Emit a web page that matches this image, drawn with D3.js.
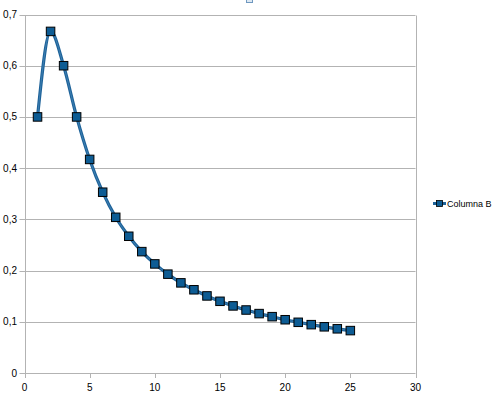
<!DOCTYPE html>
<html><head><meta charset="utf-8">
<script src="https://cdn.jsdelivr.net/npm/d3@7"></script>
<style>body{margin:0;background:#fff}svg{display:block}</style>
</head><body>
<svg id="c" width="498" height="403"></svg>
<script>
const xValues = [1,2,3,4,5,6,7,8,9,10,11,12,13,14,15,16,17,18,19,20,21,22,23,24,25];
const seriesB = [0.5,0.667,0.6,0.5,0.417,0.353,0.304,0.267,0.237,0.213,0.193,0.176,0.1625,0.1505,0.140,0.131,0.123,0.116,0.110,0.104,0.099,0.0944,0.0902,0.0863,0.0828];
const xTicks = [0,5,10,15,20,25,30];
const yTicks = [0,0.1,0.2,0.3,0.4,0.5,0.6,0.7];
const seriesName = "Columna B";

const svg = d3.select("#c");
const x = d3.scaleLinear().domain([0,30]).range([24.5,415.5]);
const y = d3.scaleLinear().domain([0,0.7]).range([373,14.5]);
const fmt = d => String(d).replace(".", ",");
const font = "Liberation Sans, Arial, sans-serif";

svg.append("g").selectAll("line").data(yTicks).join("line")
  .attr("x1", x(0)-5).attr("x2", x(30))
  .attr("y1", d=>Math.round(y(d))+0.5).attr("y2", d=>Math.round(y(d))+0.5)
  .attr("stroke", "#b3b3b3").attr("stroke-width", 1);
svg.append("g").selectAll("line").data(xTicks).join("line")
  .attr("x1", d=>Math.round(x(d))+0.5).attr("x2", d=>Math.round(x(d))+0.5)
  .attr("y1", y(0)).attr("y2", y(0)+5)
  .attr("stroke", "#b3b3b3");
[0,30].forEach(v=>{
  svg.append("line").attr("x1", Math.round(x(v))+0.5).attr("x2", Math.round(x(v))+0.5)
    .attr("y1", Math.round(y(0.7))+0.5).attr("y2", Math.round(y(0))+0.5)
    .attr("stroke", "#b3b3b3");
});
svg.append("g").selectAll("text").data(yTicks).join("text")
  .attr("x", 17).attr("y", d=>y(d)+3.5).attr("text-anchor","end")
  .attr("font-family", font).attr("font-size", 10).attr("fill","#000")
  .text(fmt);
svg.append("g").selectAll("text").data(xTicks).join("text")
  .attr("x", d=>x(d)).attr("y", 391).attr("text-anchor","middle")
  .attr("font-family", font).attr("font-size", 10).attr("fill","#000")
  .text(d=>d);

const pts = xValues.map((v,i)=>[v, seriesB[i]]);
const line = d3.line().x(d=>x(d[0])).y(d=>y(d[1])).curve(d3.curveMonotoneX);
svg.append("path").attr("d", line(pts)).attr("fill","none")
  .attr("stroke","#1d6299").attr("stroke-width",3.2);
svg.append("path").attr("d", line(pts)).attr("fill","none")
  .attr("stroke","#5593c2").attr("stroke-width",1).attr("opacity",0.6);

const ms = 8.5;
svg.append("g").selectAll("rect").data(pts).join("rect")
  .attr("x", d=>x(d[0])-ms/2).attr("y", d=>y(d[1])-ms/2)
  .attr("width", ms).attr("height", ms)
  .attr("fill","#0d5c94").attr("stroke","#000").attr("stroke-width",1);

const ly = 203.5;
svg.append("line").attr("x1",433).attr("x2",446).attr("y1",ly).attr("y2",ly)
  .attr("stroke","#1d6299").attr("stroke-width",3);
svg.append("rect").attr("x",436.5).attr("y",ly-3).attr("width",6).attr("height",6)
  .attr("fill","#0d5c94").attr("stroke","#000").attr("stroke-width",0.8);
svg.append("text").attr("x",447).attr("y",ly+3.5)
  .attr("font-family",font).attr("font-size",9).attr("fill","#000").text(seriesName);

svg.append("rect").attr("x",246.5).attr("y",-3.5).attr("width",6).attr("height",6)
  .attr("fill","#dde8f2").attr("stroke","#6f98c0").attr("stroke-width",1);
</script>
</body></html>
